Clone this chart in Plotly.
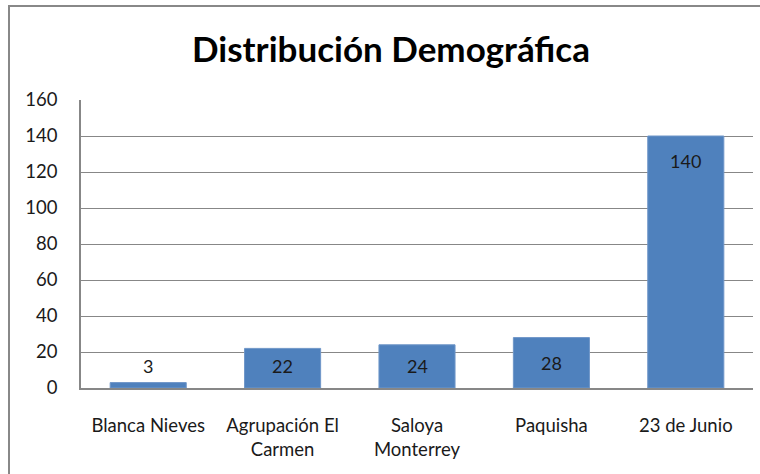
import plotly.graph_objects as go

categories = ["Blanca Nieves", "Agrupación El<br>Carmen", "Saloya<br>Monterrey", "Paquisha", "23 de Junio"]
values = [3, 22, 24, 28, 140]
y_ticks = [0, 20, 40, 60, 80, 100, 120, 140, 160]
title_text = "Distribución Demográfica"

FONT = "Lato"
TXT = "#1a1a1a"
fig = go.Figure()
fig.add_trace(go.Bar(
    x=categories, y=values,
    marker=dict(color="#4F81BD", line=dict(color="#6F96C8", width=1)),
    hoverinfo="skip",
))

for c, v in zip(categories, values):
    ypos = max(v / 2, v - 14, 12)
    fig.add_annotation(x=c, y=ypos, text=str(v), showarrow=False,
                       font=dict(family=FONT, size=18, color=TXT),
                       xanchor="center", yanchor="middle")

fig.update_layout(
    width=760, height=474,
    margin=dict(l=81, r=7, t=100, b=86),
    paper_bgcolor="white", plot_bgcolor="white",
    bargap=0.434,
    showlegend=False,
    title=dict(text=f"<b>{title_text}</b>", x=391 / 760, xanchor="center",
               y=1 - 50 / 474, yanchor="middle", yref="container",
               font=dict(family=FONT, size=35, color="black")),
    font=dict(family=FONT, size=18, color=TXT),
)
fig.update_xaxes(showline=True, linecolor="#878787", linewidth=1.5, ticks="",
                 tickfont=dict(family=FONT, size=18.5, color=TXT),
                 ticklabelstandoff=20, showgrid=False)
fig.update_yaxes(range=[0, 160], tickvals=y_ticks, showgrid=True, gridcolor="#878787",
                 gridwidth=1, showline=True, linecolor="#878787", linewidth=1.5,
                 ticks="", zeroline=False,
                 tickfont=dict(family=FONT, size=18.5, color=TXT),
                 ticklabelstandoff=18)
# chart frame (cropped at right and bottom)
fig.add_shape(type="rect", xref="paper", yref="paper",
              x0=(9 - 81) / 672, x1=1.2, y0=-0.5, y1=1 + (100 - 6) / 288,
              line=dict(color="#888888", width=2), layer="below")

fig.write_html("out.html", config={"displayModeBar": False},
               post_script="document.body.style.margin='0';document.body.style.overflow='hidden';")
